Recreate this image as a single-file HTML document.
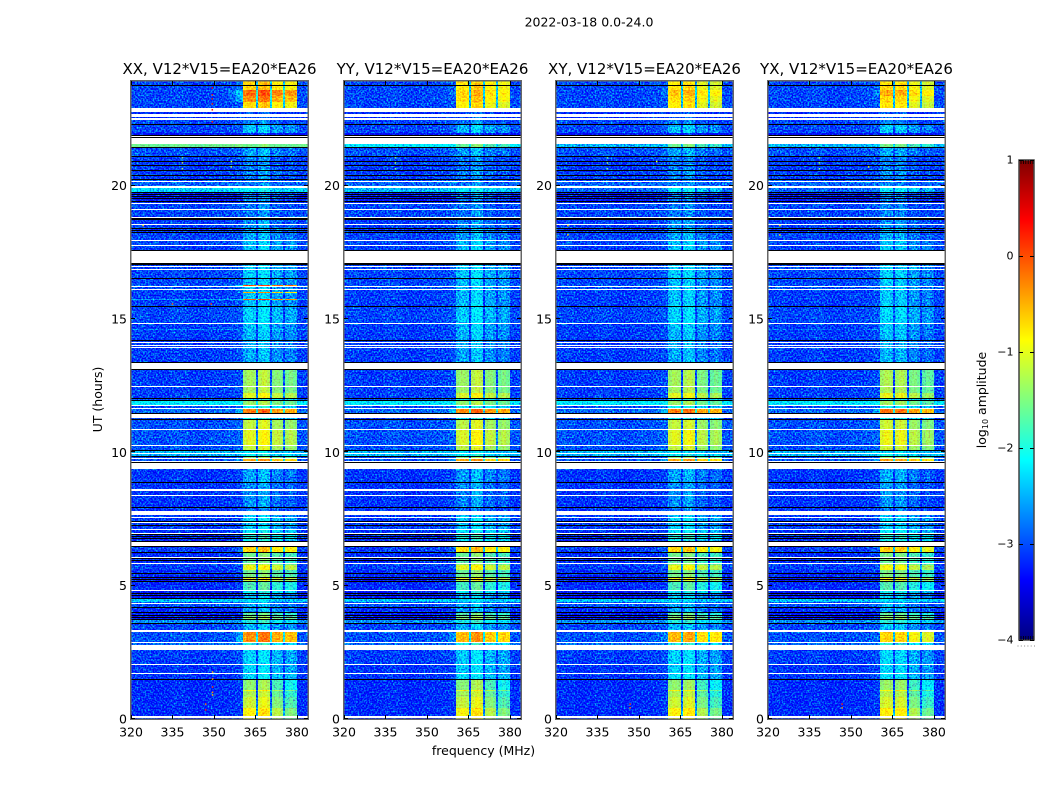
<!DOCTYPE html>
<html lang="en">
<head>
<meta charset="utf-8">
<title>2022-03-18 amplitude waterfall</title>
<style>
html,body{margin:0;padding:0;background:#fff;width:1050px;height:800px;overflow:hidden}
svg{position:absolute;left:0;top:0;display:block}
text{font-family:"DejaVu Sans","Liberation Sans",sans-serif;fill:#000}
.cell{shape-rendering:crispEdges}
</style>
</head>
<body>
<svg id="figure" width="1050" height="800" viewBox="0 0 1050 800" xmlns="http://www.w3.org/2000/svg">
  <defs>
    <filter id="speckle" x="0" y="0" width="100%" height="100%" color-interpolation-filters="sRGB">
      <feTurbulence type="fractalNoise" baseFrequency="0.62" numOctaves="1" seed="7" result="t"/>
      <feColorMatrix in="t" type="matrix" values="0 0 0 0 0.5  1 0 0 0 0  0 0.2 0 0 0.4  0 0 0 0 1" result="n"/>
      <feComposite in="SourceGraphic" in2="n" operator="arithmetic" k1="0" k2="1" k3="2.1" k4="-1.05" result="m"/>
      <feComposite in="m" in2="SourceGraphic" operator="in"/>
    </filter>
    <filter id="speckle-soft" x="0" y="0" width="100%" height="100%" color-interpolation-filters="sRGB">
      <feTurbulence type="fractalNoise" baseFrequency="0.62" numOctaves="1" seed="11" result="t"/>
      <feColorMatrix in="t" type="matrix" values="0 0 0 0 0.5  1 0 0 0 0  0 0.5 0 0 0.25  0 0 0 0 1" result="n"/>
      <feComposite in="SourceGraphic" in2="n" operator="arithmetic" k1="0" k2="1" k3="1.1" k4="-0.55" result="m"/>
      <feComposite in="m" in2="SourceGraphic" operator="in"/>
    </filter>
  </defs>
  <text x="589" y="26.5" font-size="12.5" text-anchor="middle">2022-03-18 0.0-24.0</text>
  <text x="483.5" y="755" font-size="12.5" text-anchor="middle">frequency (MHz)</text>
  <text x="0" y="0" font-size="12.5" text-anchor="middle" transform="translate(102,399.5) rotate(-90)">UT (hours)</text>
  <text x="0" y="0" font-size="12.5" text-anchor="middle" transform="translate(986,400) rotate(-90)">log<tspan font-size="8" dy="2">10</tspan><tspan dy="-2"> amplitude</tspan></text>
  <g id="panels"></g>
  <g id="colorbar"></g>
</svg>
<script>
const W = null;   // flagged time range (drawn white)
const K = -9;     // zero data (drawn black)

const panelNames = ['XX', 'YY', 'XY', 'YX'];
const baselineLabel = 'V12*V15=EA20*EA26';
const xTicks = [320, 335, 350, 365, 380];
const yTicks = [0, 5, 10, 15, 20];
const colorbarTicks = [-4, -3, -2, -1, 0, 1];
const colorbarTickText = ['\u22124', '\u22123', '\u22122', '\u22121', '0', '1'];

// time segments: start hour, background level, spectral-window level (log10 amplitude)
const rowStart = [
0,.05,.094,.413,.825,1.069,1.106,1.463,1.5,1.695,
1.733,2.025,2.063,2.588,2.786,2.831,2.869,3.244,3.338,3.563,
3.6,3.694,3.731,3.788,3.825,3.874,3.911,3.964,4.001,4.163,
4.2,4.313,4.35,4.388,4.5,4.526,4.594,4.631,4.669,4.706,
4.808,4.845,5.119,5.156,5.213,5.25,5.288,5.325,5.438,5.475,
5.576,5.775,5.82,5.858,5.906,5.944,5.981,6.019,6.056,6.225,
6.263,6.461,6.499,6.649,6.686,6.75,6.788,6.825,6.863,6.9,
6.938,6.975,7.076,7.114,7.249,7.286,7.358,7.395,7.433,7.53,
7.575,7.631,7.8,7.913,7.95,8.363,8.4,8.561,8.636,8.861,
8.899,9.356,9.593,9.638,9.668,9.743,9.78,9.825,9.863,9.949,
9.986,10.031,10.076,10.219,10.264,10.849,10.886,11.213,11.25,11.288,
11.419,11.456,11.625,11.663,11.73,11.768,11.933,11.97,12,12.038,
12.225,12.45,12.488,13.069,13.106,13.331,13.369,13.913,13.95,13.988,
14.025,14.1,14.138,14.175,14.213,14.569,14.606,14.813,14.85,15.431,
15.488,15.713,15.75,15.975,16.013,16.088,16.125,16.181,16.219,16.256,
16.5,16.538,16.838,16.875,16.95,16.988,17.036,17.1,17.531,17.569,
17.719,17.764,17.925,17.963,18.225,18.263,18.3,18.338,18.375,18.413,
18.525,18.563,18.694,18.731,18.758,18.788,18.825,19.076,19.114,19.313,
19.35,19.399,19.436,19.481,19.519,19.556,19.594,19.631,19.669,19.706,
19.744,19.913,19.969,20.119,20.156,20.231,20.261,20.363,20.4,20.531,
20.569,20.719,20.756,20.869,20.906,21.075,21.113,21.413,21.458,21.563,
21.788,21.825,21.863,21.9,21.956,22.275,22.313,22.463,22.519,22.556,
22.699,22.751,22.924,23.138,23.363,23.588,23.738,23.775];
const rowBg = [
-3.2,W,-3.2,-3.2,-3.2,-3.2,-3.2,K,-3.15,W,
-3.15,W,-3.1,W,-2.9,W,-3,W,-3.05,K,
-2.7,K,-3.3,K,-3.3,K,-3.3,K,-3.2,K,
-3,W,-3,-2.4,K,-3.3,K,-3.3,K,-3.3,
W,-3.2,K,-3.3,K,-3.3,K,-3.2,K,-3.2,
-3.1,-3.1,W,-3.2,K,-3.2,K,W,-3.2,K,
-3.1,K,W,K,-3.2,K,-3.2,K,-3.2,K,
W,-3.15,W,-3.1,K,-3.1,W,K,-3.1,W,
-3.1,W,-3.15,K,-3.15,W,-3.15,W,-3.15,K,
-3.15,W,K,W,-3,W,-3.05,K,-2.5,W,
-2.5,K,-3,W,-3,W,-3,K,-3.1,W,
K,-2.9,W,-3,W,-2.2,K,-3,K,-3.1,
-3.1,W,-3.1,K,W,K,-3.1,W,-3.1,W,
-3.1,W,-3.1,K,-3.1,-2.7,-3.1,W,-3.05,K,
-3.1,-2.6,-3.1,-3.1,-3.1,W,-3,W,-3,-3.05,
K,-3.05,W,-3.05,W,-3.05,K,W,K,-3.1,
W,-3.05,W,-3.05,K,-3.1,K,-3.1,K,-3.1,
W,-3.1,K,-3.1,K,W,-3.05,W,-3.05,W,
-3.2,K,-3.3,K,-3.3,K,-3.3,K,-3.3,K,
-2.35,W,-2.9,W,-3,K,-3.1,K,-3.1,K,
-3.1,K,-3.1,K,-3.1,K,-3,K,-1.6,W,
K,W,K,-3.4,-3.05,K,-3.05,W,-3.2,W,
-3.2,W,-3.05,-3.05,-3.05,-3.05,K,-3.05];
const rowSpw = [
-1,W,-.9,-1.15,-1.3,-.95,-1.45,K,-2.3,W,
-2.35,W,-2.35,W,-2,W,-.35,W,-2.5,K,
-2,K,-1.4,K,-1.55,K,-1.7,K,-2.6,K,
-2.6,W,-2.7,-2.3,K,-2.45,K,-2.6,K,-2.1,
W,-1.8,K,-1.15,K,-1,K,-1.55,K,-1.6,
-1,-1.4,W,-1.7,K,-1.55,K,W,-1.6,K,
-.7,K,W,K,-2.1,K,-1.9,K,-2,K,
W,-2.2,W,-2.4,K,-2.45,W,K,-2.3,W,
-2.45,W,-2.85,K,-2.7,W,-2.7,W,-2.7,K,
-2.6,W,K,W,-.45,W,-1.5,K,-2.1,W,
-2.3,K,-1.2,W,-1.05,W,-1.2,K,-2.1,W,
K,-.25,W,-2.1,W,-1.4,K,-2.1,K,-1.05,
-1.35,W,-1.35,K,W,K,-2.55,W,-2.55,W,
-2.55,W,-2.55,K,-2.5,-2.45,-2.45,W,-2.35,K,
-2.45,-.1,-2.45,-.5,-2.45,W,-2.45,W,0,-2.45,
K,-2.4,W,-2.4,W,-2.4,K,W,K,-2.45,
W,-2.45,W,-2.6,K,-2.6,K,-2.6,K,-2.7,
W,-2.7,K,-2.7,K,W,-2.8,W,-2.8,W,
-2.9,K,-2.8,K,-2.8,K,-2.8,K,-2.8,K,
-2.2,W,-2.8,W,-2.8,K,-2.8,K,-2.7,K,
-2.8,K,-2.8,K,-2.8,K,-2.6,K,-1.6,W,
K,W,K,-3.3,-2.45,K,-2.8,W,-3,W,
-3,W,-.75,-.35,-.15,-.7,K,-.7];

// frequency channels (MHz) and how each responds to the row levels
const channelEdges = [320,327,334,341,348,355,358,360.5,362,363.7,365.3,366,367.5,369,370.3,370.9,372.2,373.7,375,375.7,377,378.6,380,384];
const channelBgGain = [.03,-.02,.04,-.03,.02,.05,.1,0,0,0,0,0,0,0,0,0,0,0,0,0,0,0,.03];
const channelSpwGain = [-9,-9,-9,-9,-9,-2.6,-2.2,-.1,0,-.05,-1.7,.05,.15,.05,-1.7,-.1,-.05,-.15,-1.7,-.15,-.05,-.15,-9];
const channelSpwIndex = [-1,-1,-1,-1,-1,-1,-1,0,0,0,-1,1,1,1,-1,2,2,2,-1,3,3,3,-1];

// per-correlation spectral-window gain
const spwGainXX = [.05,.05,-.05,-.1];
const spwGainYY = [0,.05,-.05,-.1];
const spwGainXY = [.05,0,-.1,-.15];
const spwGainYX = [.1,-.05,-.1,-.2];

// the early block (first 1.46 h) fades toward the upper windows
const tiltEndHour = 1.463;
const tiltSpwGain = [0,0,-.2,-.4];

// rows where the other correlations differ from the shared row levels
const spwOverrideHours = [2.869,15.713,15.975,16.219,22.924,23.138,23.363,23.588,23.775];
const spwOverrideYY = [-.5,-2.45,-2.45,-2.45,-.85,-.7,-.65,-.75,-.75];
const spwOverrideXY = [-.55,-2.45,-2.45,-2.45,-.85,-.75,-.6,-.8,-.85];
const spwOverrideYX = [-.75,-2.45,-2.45,-2.45,-.85,-.75,-.55,-.75,-.8];
const bgOverrideHours = [14.569,15.713,19.744,21.458];
const bgOverrideYY = [-3.05,-3.1,-2.5,-2.2];
const bgOverrideXY = [-3.1,-3.1,-2.9,-2.5];
const bgOverrideYX = [-2.9,-3.1,-2.9,-2.5];

// isolated interference spots
const rfiPanel = [0,0,0,0,0,0, 0,1,2,3,0,1,2,3,0,1,2,3, 0,0,2,3, 0,0,0,0,0,0,0, 2,2,3,3, 0,0, 0,2,2,3,3];
const rfiFreq = [349.4,349.4,349.4,349.4,349.4,349.4, 338.6,338.6,338.6,338.6,338.6,338.6,338.6,338.6,338.6,338.6,338.6,338.6, 356.3,356.3,356.4,356.4, 349.5,349.5,349.5,349.5,349.5,347,347, 346.8,346.8,346.8,346.8, 335,349, 324.4,324.3,324.3,324.3,324.3];
const rfiHour = [23.66,23.4,23.25,23.06,22.84,22.39, 21.04,21.04,21.04,21.04,20.85,20.85,20.85,20.85,20.63,20.63,20.63,20.63, 20.9,20.7,20.9,20.7, 1.76,1.5,1.2,1,.9,.56,.34, .56,.42,.56,.42, 15.56,15.56, 18.5,18.5,18.15,18.5,18.15];
const rfiLevel = [.4,.3,.5,.4,.3,.2, -1.5,-1.6,-1.6,-1.6,-1.3,-1.4,-1.4,-1.4,-1.4,-1.5,-1.5,-1.5, -1.2,-1.2,-1,-1, -.6,-.4,.1,-.3,-.6,-.2,.2, .2,-.2,.2,-.2, -.2,.1, -.7,-.7,-.7,-.7,-.7];

const spwGains = [spwGainXX, spwGainYY, spwGainXY, spwGainYX];
const spwOverrides = [null, spwOverrideYY, spwOverrideXY, spwOverrideYX];
const bgOverrides = [null, bgOverrideYY, bgOverrideXY, bgOverrideYX];

const NS = 'http://www.w3.org/2000/svg';
const layoutLeft = [131, 344, 556, 768];
const plotWidth = 177, plotTop = 81, plotBottom = 719, hourMax = 23.92;
const cmin = -4, cmax = 1;

function xScale(panel, mhz) { return layoutLeft[panel] + (mhz - 320) * plotWidth / 64; }
function yScale(hour) { return plotBottom - hour * (plotBottom - plotTop) / hourMax; }
function clamp(v) { return Math.max(0, Math.min(1, v)); }
function jet(level) {
  const t = clamp((level - cmin) / (cmax - cmin));
  const r = clamp(Math.min(4 * t - 1.5, -4 * t + 4.5));
  const g = clamp(Math.min(4 * t - 0.5, -4 * t + 3.5));
  const b = clamp(Math.min(4 * t + 0.5, -4 * t + 2.5));
  return 'rgb(' + Math.round(r * 255) + ',' + Math.round(g * 255) + ',' + Math.round(b * 255) + ')';
}
function svgEl(tag) { return document.createElementNS(NS, tag); }
function bgLevel(panel, i) {
  const k = bgOverrideHours.indexOf(rowStart[i]);
  return (k >= 0 && bgOverrides[panel]) ? bgOverrides[panel][k] : rowBg[i];
}
function spwLevel(panel, i) {
  const k = spwOverrideHours.indexOf(rowStart[i]);
  return (k >= 0 && spwOverrides[panel]) ? spwOverrides[panel][k] : rowSpw[i];
}

const panelsRoot = document.getElementById('panels');

panelNames.forEach(function (name, p) {
  const panel = svgEl('g');
  
  
  panelsRoot.appendChild(panel);

  const colored = svgEl('g');
  
  
  colored.setAttribute('filter', 'url(#speckle)');
  panel.appendChild(colored);

  const bright = svgEl('g');
  
  
  bright.setAttribute('filter', 'url(#speckle-soft)');
  panel.appendChild(bright);

  const flagged = svgEl('g');
  
  
  panel.appendChild(flagged);

  rowStart.forEach(function (start, i) {
    const end = i + 1 < rowStart.length ? rowStart[i + 1] : hourMax;
    const yTop = Math.round(yScale(end));
    const yBot = Math.round(yScale(start));
    const h = Math.max(1, yBot - yTop);
    const bg = bgLevel(p, i);
    const spw = spwLevel(p, i);
    if (bg === W || bg === K) {
      const band = svgEl('rect');
      
      
      band.setAttribute('class', 'cell');
      band.setAttribute('x', layoutLeft[p]);
      band.setAttribute('y', yTop);
      band.setAttribute('width', plotWidth);
      band.setAttribute('height', h);
      band.setAttribute('fill', bg === W ? '#fff' : '#000');
      flagged.appendChild(band);
      return;
    }
    for (let c = 0; c + 1 < channelEdges.length; c++) {
      const x0 = Math.round(xScale(p, channelEdges[c]));
      const x1 = Math.round(xScale(p, channelEdges[c + 1]));
      const s = channelSpwIndex[c];
      let panelGain = s >= 0 ? spwGains[p][s] : 0;
      if (s >= 0 && start < tiltEndHour) panelGain += tiltSpwGain[s];
      const level = Math.max(bg + channelBgGain[c], spw + channelSpwGain[c] + panelGain);
      const cell = svgEl('rect');
      
      
      cell.setAttribute('class', 'cell');
      cell.setAttribute('x', x0);
      cell.setAttribute('y', yTop);
      cell.setAttribute('width', x1 - x0);
      cell.setAttribute('height', h);
      cell.setAttribute('fill', jet(level));
      (level > -1.7 ? bright : colored).appendChild(cell);
    }
  });

  rfiFreq.forEach(function (f, i) {
    if (rfiPanel[i] !== p) return;
    const spot = svgEl('rect');
    
    
    spot.setAttribute('x', xScale(p, f) - 0.75);
    spot.setAttribute('y', yScale(rfiHour[i]) - 0.75);
    spot.setAttribute('width', 1.5);
    spot.setAttribute('height', 1.5);
    spot.setAttribute('fill', jet(rfiLevel[i]));
    panel.appendChild(spot);
  });

  const frame = svgEl('rect');
  
  
  frame.setAttribute('x', layoutLeft[p] - 0.25);
  frame.setAttribute('y', plotTop - 0.25);
  frame.setAttribute('width', plotWidth + 0.5);
  frame.setAttribute('height', plotBottom - plotTop + 0.5);
  frame.setAttribute('fill', 'none');
  frame.setAttribute('stroke', '#666');
  frame.setAttribute('stroke-width', '1.5');
  panel.appendChild(frame);

  const title = svgEl('text');
  
  
  title.setAttribute('x', layoutLeft[p] + plotWidth / 2);
  title.setAttribute('y', 74);
  title.setAttribute('font-size', '15');
  title.setAttribute('text-anchor', 'middle');
  title.textContent = name + ', ' + baselineLabel;
  panel.appendChild(title);

  xTicks.forEach(function (tick) {
    const x = Math.round(xScale(p, tick)) + 0.5;
    [[plotBottom, plotBottom - 4], [plotTop, plotTop + 4]].forEach(function (pair) {
      const mark = svgEl('line');
      
      
      mark.setAttribute('x1', x);
      mark.setAttribute('x2', x);
      mark.setAttribute('y1', pair[0]);
      mark.setAttribute('y2', pair[1]);
      mark.setAttribute('stroke', '#000');
      panel.appendChild(mark);
    });
    const label = svgEl('text');
    
    
    label.setAttribute('x', xScale(p, tick));
    label.setAttribute('y', 736.5);
    label.setAttribute('font-size', '12.5');
    label.setAttribute('text-anchor', 'middle');
    label.textContent = tick;
    panel.appendChild(label);
  });

  yTicks.forEach(function (tick) {
    const y = Math.round(yScale(tick)) - 0.5;
    const left = layoutLeft[p], right = left + plotWidth;
    [[left, left + 4], [right, right - 4]].forEach(function (pair) {
      const mark = svgEl('line');
      
      
      mark.setAttribute('x1', pair[0]);
      mark.setAttribute('x2', pair[1]);
      mark.setAttribute('y1', y);
      mark.setAttribute('y2', y);
      mark.setAttribute('stroke', '#000');
      panel.appendChild(mark);
    });
    const label = svgEl('text');
    
    
    label.setAttribute('x', left - 4);
    label.setAttribute('y', yScale(tick) + 4.5);
    label.setAttribute('font-size', '12.5');
    label.setAttribute('text-anchor', 'end');
    label.textContent = tick;
    panel.appendChild(label);
  });
});

// colorbar
const cbRoot = document.getElementById('colorbar');
const cbLeft = 1019, cbWidth = 15, cbTop = 160, cbBottom = 640;
function cbY(level) { return cbBottom - (level - cmin) * (cbBottom - cbTop) / (cmax - cmin); }

for (let py = cbTop; py < cbBottom; py++) {
  const swatch = svgEl('rect');
  
  
  swatch.setAttribute('class', 'cell');
  swatch.setAttribute('x', cbLeft);
  swatch.setAttribute('y', py);
  swatch.setAttribute('width', cbWidth);
  swatch.setAttribute('height', 1);
  swatch.setAttribute('fill', jet(cmax - (py + 0.5 - cbTop) * (cmax - cmin) / (cbBottom - cbTop)));
  cbRoot.appendChild(swatch);
}

const cbFrame = svgEl('rect');


cbFrame.setAttribute('x', cbLeft);
cbFrame.setAttribute('y', cbTop);
cbFrame.setAttribute('width', cbWidth);
cbFrame.setAttribute('height', cbBottom - cbTop);
cbFrame.setAttribute('fill', 'none');
cbFrame.setAttribute('stroke', '#444');
cbFrame.setAttribute('stroke-width', '1.5');
cbRoot.appendChild(cbFrame);

colorbarTicks.forEach(function (tick, i) {
  const y = Math.round(cbY(tick)) + 0.5;
  [[cbLeft, cbLeft + 4], [cbLeft + cbWidth, cbLeft + cbWidth - 4]].forEach(function (pair) {
    const mark = svgEl('line');
    
    
    mark.setAttribute('x1', pair[0]);
    mark.setAttribute('x2', pair[1]);
    mark.setAttribute('y1', y);
    mark.setAttribute('y2', y);
    mark.setAttribute('stroke', '#000');
    cbRoot.appendChild(mark);
  });
  const label = svgEl('text');
  
  
  label.setAttribute('x', 1013.5);
  label.setAttribute('y', cbY(tick) + 3.5);
  label.setAttribute('font-size', '11');
  label.setAttribute('text-anchor', 'end');
  label.textContent = colorbarTickText[i];
  cbRoot.appendChild(label);
});

for (let d = 0; d < 6; d++) {
  const dot = svgEl('rect');
  
  
  dot.setAttribute('x', 1017.5 + d * 3.3);
  dot.setAttribute('y', 645.5);
  dot.setAttribute('width', 1);
  dot.setAttribute('height', 1);
  dot.setAttribute('fill', '#888');
  cbRoot.appendChild(dot);

  [[cbTop, cbTop + 4], [cbBottom, cbBottom - 4]].forEach(function (pair) {
    const hatch = svgEl('line');
    
    
    hatch.setAttribute('x1', cbLeft + 2 + d * 2.4);
    hatch.setAttribute('x2', cbLeft + 2 + d * 2.4);
    hatch.setAttribute('y1', pair[0]);
    hatch.setAttribute('y2', pair[1]);
    hatch.setAttribute('stroke', '#000');
    hatch.setAttribute('stroke-width', '0.8');
    cbRoot.appendChild(hatch);
  });
}
</script>
</body>
</html>
